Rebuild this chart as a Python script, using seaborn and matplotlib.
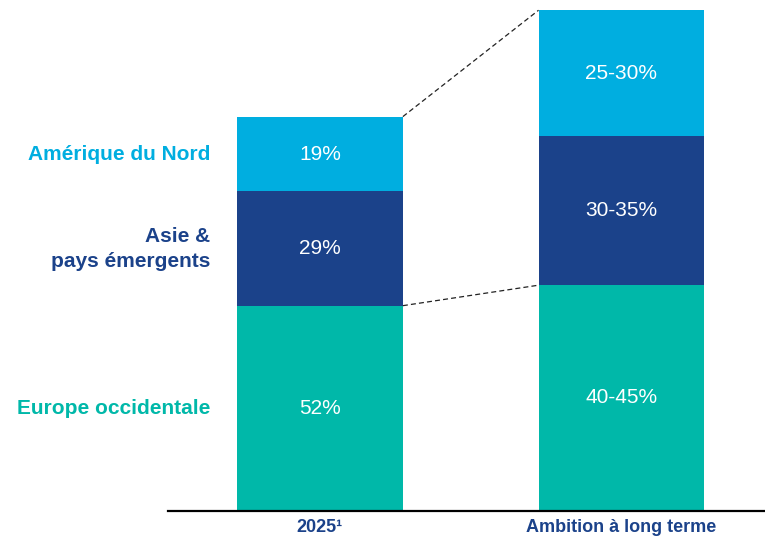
import matplotlib
matplotlib.use("Agg")
import matplotlib.pyplot as plt
import pandas as pd
import seaborn as sns

# Categories (x axis) and regions (stack order, bottom to top)
periods = ["2025\u00b9", "Ambition à long terme"]
regions = ["Europe occidentale", "Asie &\npays émergents", "Amérique du Nord"]

# Segment heights, drawn to the scale of the original chart
europe = [52, 57.2]
asie = [29, 37.8]
amerique = [19, 32.0]

# Texts printed inside the segments
europe_txt = ["52%", "40-45%"]
asie_txt = ["29%", "30-35%"]
amerique_txt = ["19%", "25-30%"]

colors = ["#00B8A9", "#1B428A", "#00AEE0"]
label_blue = "#1B428A"


def main():
    sns.set_theme(style="white")
    plt.rcParams["font.family"] = ["Liberation Sans", "DejaVu Sans"]

    heights = [europe, asie, amerique]
    texts = [europe_txt, asie_txt, amerique_txt]

    fig = plt.figure(figsize=(7.65, 5.38), dpi=100)
    ax = fig.add_axes([168 / 765, 27.5 / 538, 597 / 765, 510.5 / 538])

    # cumulative tops, drawn from the top segment down so lower ones cover them
    rows = []
    for i, p in enumerate(periods):
        cum = 0
        for r, h in zip(regions, heights):
            cum += h[i]
            rows.append({"period": p, "region": r, "top": cum})
    df = pd.DataFrame(rows)

    width = 0.55
    for r, c in reversed(list(zip(regions, colors))):
        sub = df[df["region"] == r]
        sns.barplot(data=sub, x="period", y="top", color=c, width=width,
                    saturation=1, ax=ax, linewidth=0, order=periods)

    # labels inside the bars
    for i in range(len(periods)):
        base = 0
        for h, t in zip(heights, texts):
            ax.text(i, base + h[i] / 2, t[i], ha="center", va="center",
                    color="white", fontsize=15)
            base += h[i]

    # region labels left of the first bar
    base = 0
    for r, h, c in zip(regions, heights, colors):
        ax.text(-width / 2 - 0.09, base + h[0] / 2, r, ha="right", va="center",
                color=c, fontsize=15, fontweight="bold", linespacing=1.4)
        base += h[0]

    # dashed connectors between the bars
    x0, x1 = width / 2, 1 - width / 2
    ax.plot([x0, x1], [sum(h[0] for h in heights), sum(h[1] for h in heights)],
            color="#222222", linestyle=(0, (4, 2.5)), linewidth=0.9)
    ax.plot([x0, x1], [europe[0], europe[1]],
            color="#222222", linestyle=(0, (4, 2.5)), linewidth=0.9)

    ax.set_xlim(-0.504, 1.476)
    ax.set_ylim(0, 129.6)
    ax.set_xlabel("")
    ax.set_ylabel("")
    ax.set_yticks([])
    for s in ["left", "right", "top"]:
        ax.spines[s].set_visible(False)
    ax.spines["bottom"].set_color("black")
    ax.spines["bottom"].set_linewidth(1.6)
    ax.tick_params(axis="x", length=0, pad=6)
    for lbl in ax.get_xticklabels():
        lbl.set_fontweight("bold")
        lbl.set_color(label_blue)
        lbl.set_fontsize(13)

    fig.savefig("out.png", dpi=100)
    plt.close(fig)


if __name__ == "__main__":
    main()
